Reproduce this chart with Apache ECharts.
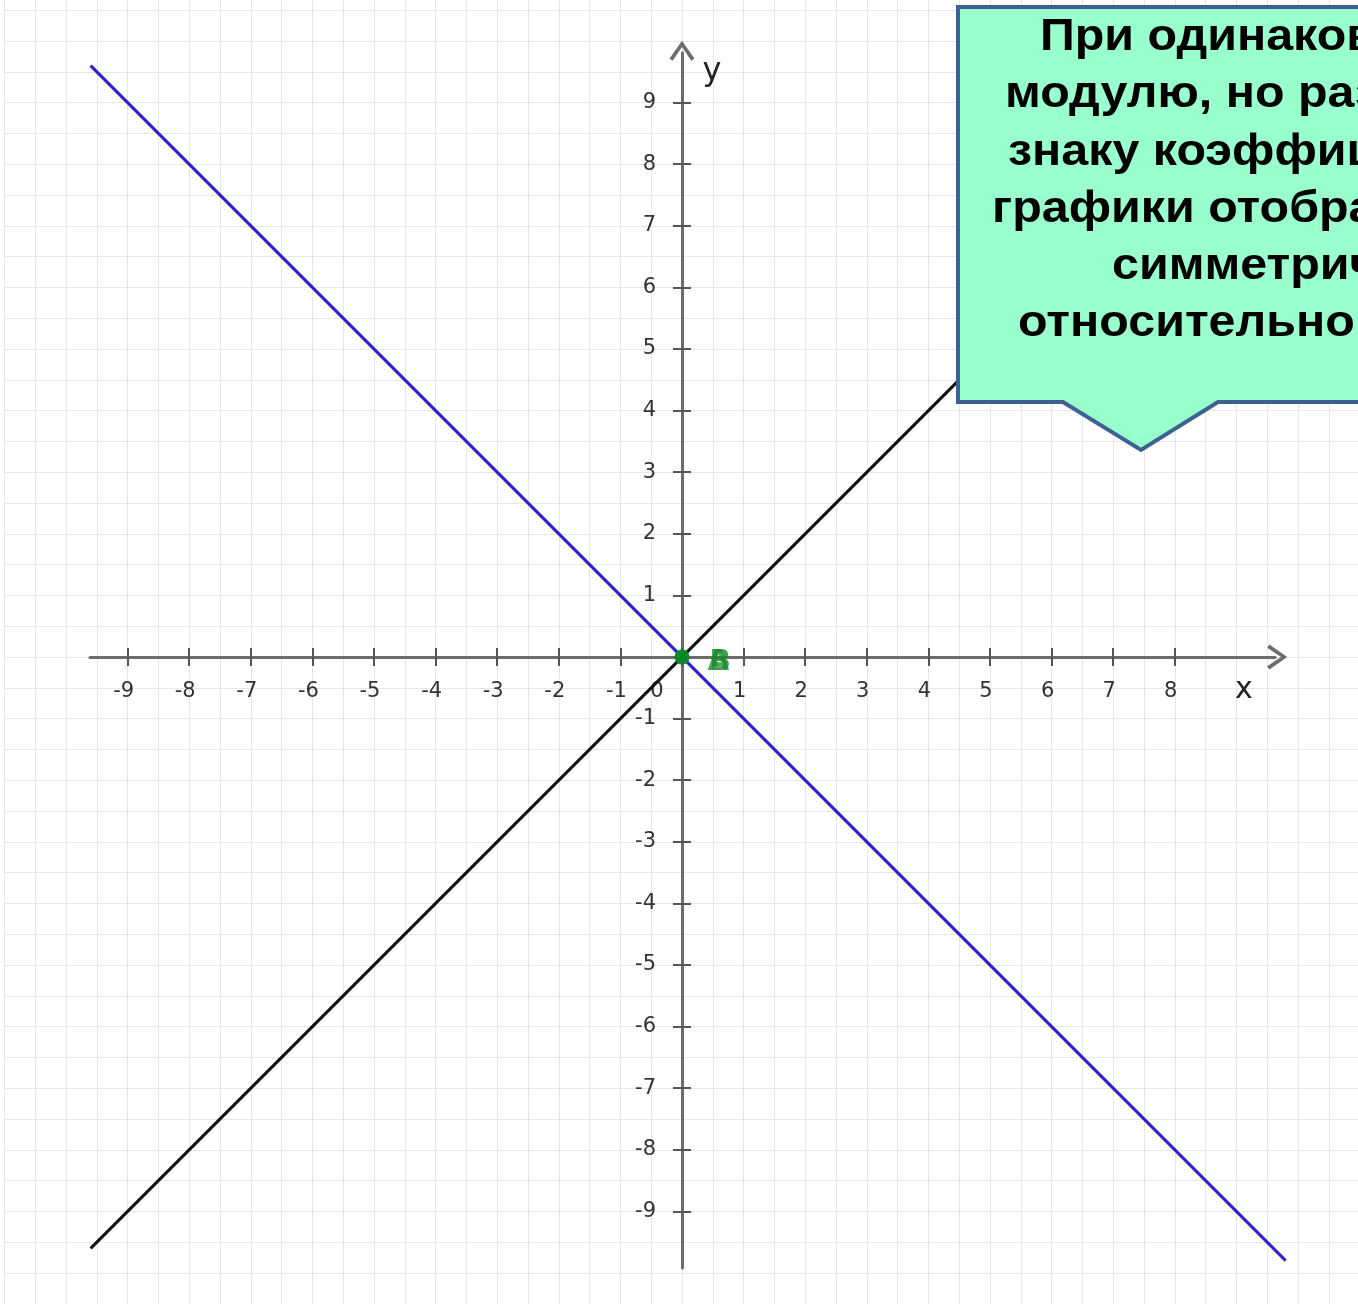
<!DOCTYPE html>
<html>
<head>
<meta charset="utf-8">
<script src="https://cdn.jsdelivr.net/npm/echarts@6/dist/echarts.min.js"></script>
<style>
  html, body { margin: 0; padding: 0; background: #ffffff; }
  #main { width: 1358px; height: 1304px; }
</style>
</head>
<body>
<div id="main"></div>
<script>
// data
var xTicks = [-9, -8, -7, -6, -5, -4, -3, -2, -1, 0, 1, 2, 3, 4, 5, 6, 7, 8];
var yTicks = [-9, -8, -7, -6, -5, -4, -3, -2, -1, 1, 2, 3, 4, 5, 6, 7, 8, 9];
var blackLine = [[-9.6, -9.6], [9.8, 9.8]];   // y = x
var blueLine = [[-9.6, 9.6], [9.8, -9.8]];    // y = -x
var originPoint = [[0, 0]];
var xAxisRange = [-9.61, 9.63];
var yAxisRange = [-9.92, 9.81];
var paperRange = [-11, 11];
var plotRange = [-10, 10];
var calloutLines = [
  'При одинаковых по',
  'модулю, но разных по',
  'знаку коэффициентах',
  'графики отображаются',
  'симметрично',
  'относительно осей'
];

// layout: one unit in px and where the origin sits
var UNIT = 61.6, OX = 682, OY = 657;
function rect(xr, yr) {
  return {
    left: OX + xr[0] * UNIT,
    top: OY - yr[1] * UNIT,
    width: (xr[1] - xr[0]) * UNIT,
    height: (yr[1] - yr[0]) * UNIT,
    containLabel: false,
    outerBoundsMode: 'none'
  };
}

var chevron = 'path://M0,20 L14,0 L28,20 L24.5,22.5 L14,7 L3.5,22.5 Z';
var tickStyle = { color: '#555', width: 2 };
var axisColor = '#6c6c6c';
var hidden = { axisLine: { show: false, onZero: false }, axisTick: { show: false }, axisLabel: { show: false }, splitLine: { show: false } };

function hiddenAxis(gridIndex, range) {
  return Object.assign({ gridIndex: gridIndex, type: 'value', min: range[0], max: range[1] }, hidden);
}

var myChart = echarts.init(document.getElementById('main'));

var xGrid = rect(xAxisRange, [0, 1]);
xGrid.top = 0; xGrid.height = OY;
var yGrid = rect([0, 1], yAxisRange);

var option = {
  backgroundColor: '#ffffff',
  animation: false,
  grid: [rect(paperRange, paperRange), rect(plotRange, plotRange), xGrid, yGrid],
  xAxis: [
    {
      gridIndex: 0, type: 'value', min: paperRange[0], max: paperRange[1], interval: 0.5,
      axisLine: { show: false, onZero: false }, axisTick: { show: false }, axisLabel: { show: false },
      splitLine: { show: true, lineStyle: { color: '#e7e7e7', width: 1 } }
    },
    hiddenAxis(1, plotRange),
    {
      gridIndex: 2, type: 'value', min: xAxisRange[0], max: xAxisRange[1], position: 'bottom',
      axisLine: {
        show: true, onZero: false,
        lineStyle: { color: axisColor, width: 3 },
        symbol: ['none', chevron], symbolSize: [28, 20], symbolOffset: [0, 2]
      },
      axisTick: { show: true, customValues: xTicks, length: 9, lineStyle: tickStyle },
      axisLabel: {
        show: true, customValues: xTicks, margin: 24, padding: [0, 8, 0, 0],
        fontFamily: 'DejaVu Sans', fontSize: 21, color: '#333',
        formatter: function (v) { return v === 0 ? '{z|0}' : String(v); },
        rich: { z: { fontFamily: 'DejaVu Sans', fontSize: 21, color: '#333', padding: [0, 42, 0, 0] } }
      },
      splitLine: { show: false }
    },
    {
      gridIndex: 2, type: 'value', min: xAxisRange[0], max: xAxisRange[1], position: 'bottom',
      axisLine: { show: false, onZero: false },
      axisTick: { show: true, inside: true, customValues: xTicks, length: 9, lineStyle: tickStyle },
      axisLabel: { show: false }, splitLine: { show: false }
    },
    hiddenAxis(3, [0, 1])
  ],
  yAxis: [
    {
      gridIndex: 0, type: 'value', min: paperRange[0], max: paperRange[1], interval: 0.5,
      axisLine: { show: false, onZero: false }, axisTick: { show: false }, axisLabel: { show: false },
      splitLine: { show: true, lineStyle: { color: '#e7e7e7', width: 1 } }
    },
    hiddenAxis(1, plotRange),
    hiddenAxis(2, [0, 1]),
    {
      gridIndex: 3, type: 'value', min: yAxisRange[0], max: yAxisRange[1], position: 'left',
      axisLine: {
        show: true, onZero: false,
        lineStyle: { color: axisColor, width: 3 },
        symbol: ['none', chevron], symbolSize: [28, 20], symbolOffset: [0, 2]
      },
      axisTick: { show: true, customValues: yTicks, length: 9, lineStyle: tickStyle },
      axisLabel: {
        show: true, customValues: yTicks, margin: 26, padding: [4, 0, 0, 0],
        fontFamily: 'DejaVu Sans', fontSize: 21, color: '#333'
      },
      splitLine: { show: false }
    },
    {
      gridIndex: 3, type: 'value', min: yAxisRange[0], max: yAxisRange[1], position: 'left',
      axisLine: { show: false, onZero: false },
      axisTick: { show: true, inside: true, customValues: yTicks, length: 9, lineStyle: tickStyle },
      axisLabel: { show: false }, splitLine: { show: false }
    }
  ],
  series: [
    {
      type: 'line', xAxisIndex: 1, yAxisIndex: 1, data: blackLine,
      symbol: 'none', lineStyle: { color: '#111111', width: 3 }, z: 5
    },
    {
      type: 'line', xAxisIndex: 1, yAxisIndex: 1, data: blueLine,
      symbol: 'none', lineStyle: { color: '#2a22c4', width: 3 }, z: 5
    },
    {
      type: 'scatter', xAxisIndex: 1, yAxisIndex: 1, data: originPoint,
      symbolSize: 15, itemStyle: { color: '#0b8a25' }, z: 6,
      label: {
        show: true, position: 'right', distance: 18, offset: [0, 6],
        formatter: 'A', fontFamily: 'DejaVu Sans', fontWeight: 'bold', fontSize: 28, color: '#1f9030'
      }
    },
    {
      type: 'scatter', xAxisIndex: 1, yAxisIndex: 1, data: originPoint,
      symbolSize: 15, itemStyle: { color: '#0b8a25' }, z: 6,
      label: {
        show: true, position: 'right', distance: 20, offset: [0, 6],
        formatter: 'B', fontFamily: 'DejaVu Sans', fontWeight: 'bold', fontSize: 28, color: '#178a26'
      }
    }
  ],
  graphic: [
    // axis names
    {
      type: 'text', z: 50, x: OX + 30, y: 72,
      style: { text: 'y', font: '32px "DejaVu Sans"', fill: '#222', align: 'center', verticalAlign: 'middle' }
    },
    {
      type: 'text', z: 50, x: OX + 9.12 * UNIT, y: OY + 33,
      style: { text: 'x', font: '30px "DejaVu Sans"', fill: '#222', align: 'center', verticalAlign: 'middle' }
    },
    // callout box
    {
      type: 'polygon', z: 100,
      shape: { points: [[958, 7], [1420, 7], [1420, 402], [1218, 402], [1141, 450], [1063, 402], [958, 402]] },
      style: { fill: '#99ffcc', stroke: '#3d6190', lineWidth: 4 }
    }
  ].concat(calloutLines.map(function (t, i) {
    var starts = [1040, 1005, 1008, 992, 1112, 1018];
    return {
      type: 'text', z: 101, x: starts[i], y: 38 + i * 57.2, scaleX: 1.1,
      style: { text: t, font: 'bold 44px "Liberation Sans", Arial, sans-serif', fill: '#000', verticalAlign: 'middle' }
    };
  }))
};

myChart.setOption(option);
</script>
</body>
</html>
